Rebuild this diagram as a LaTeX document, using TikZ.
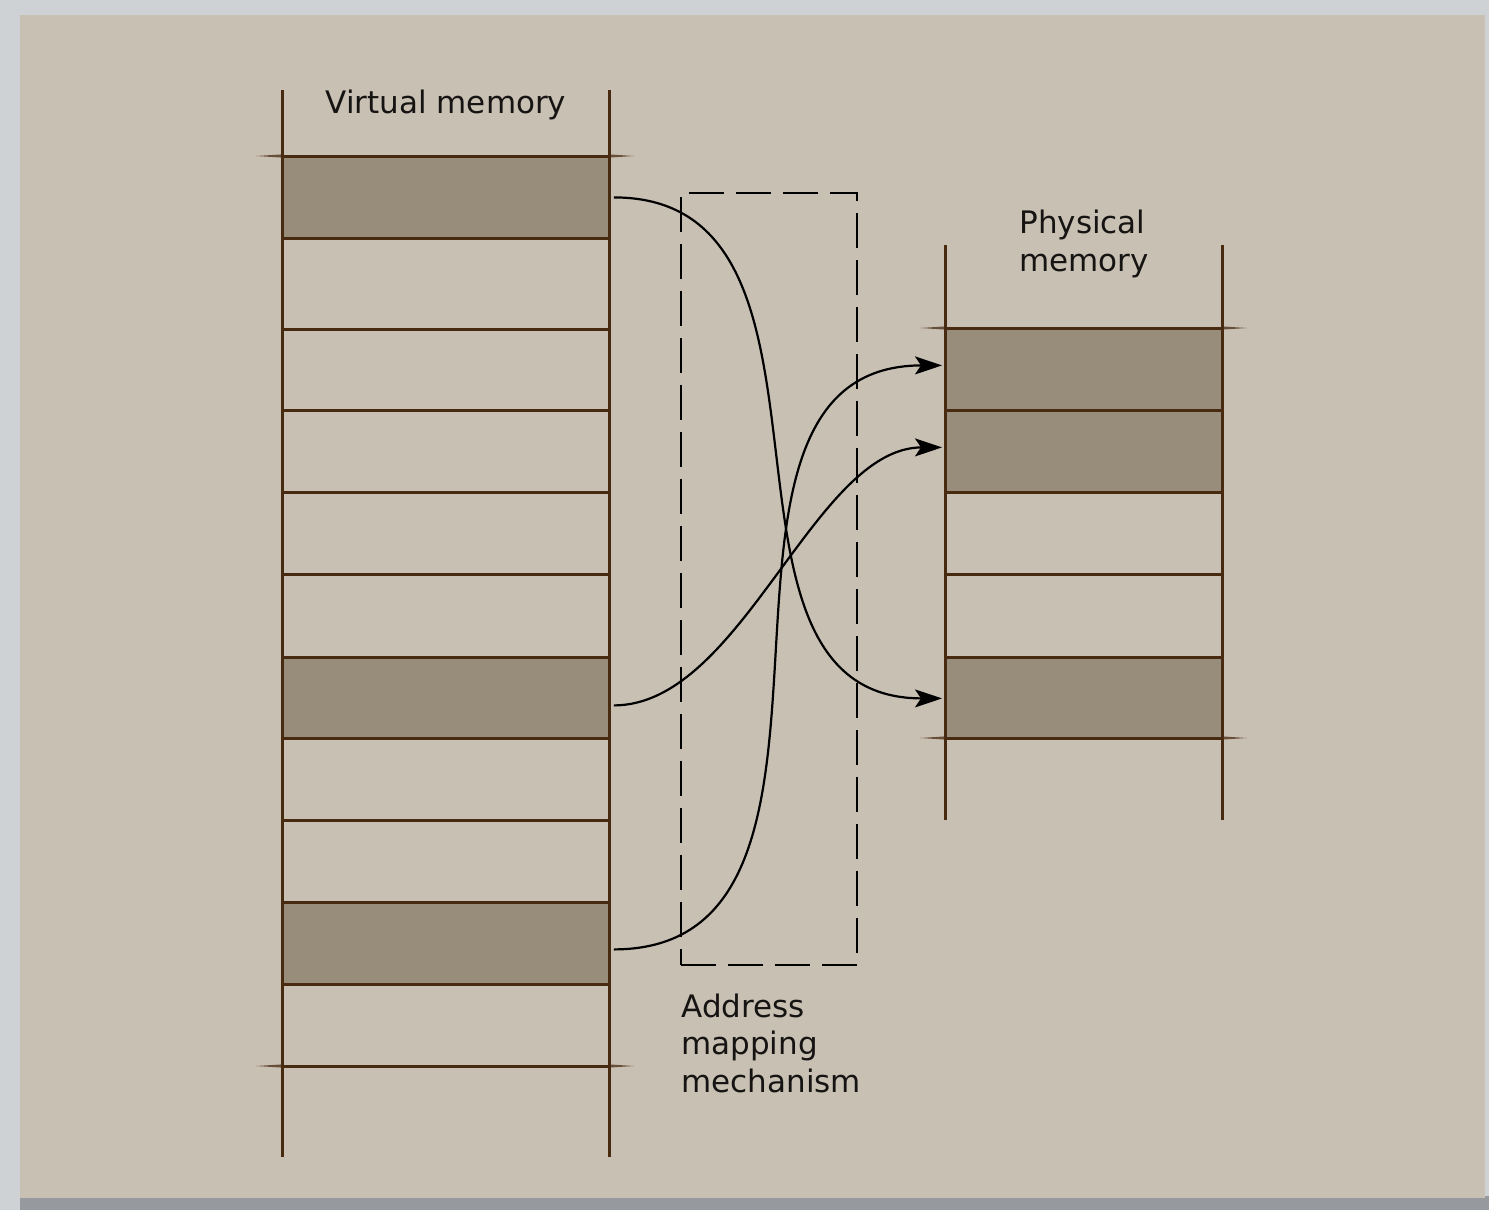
\documentclass[tikz,border=0pt]{standalone}
\usepackage{fontspec}
\setmainfont{DejaVu Sans}
\usetikzlibrary{arrows.meta}

\definecolor{frame}{RGB}{207,210,212}
\definecolor{shadow}{RGB}{150,153,157}
\definecolor{paper}{RGB}{201,192,180}
\definecolor{block}{RGB}{152,140,122}
\definecolor{ink}{RGB}{72,42,16}
\definecolor{textc}{RGB}{22,20,18}

\begin{document}
\begin{tikzpicture}[x=0.5pt,y=-0.5pt,
  rule/.style={draw=ink, line width=1.5pt},
  stub/.style={fill=ink, opacity=0.75},
  slot/.style={fill=block, draw=none, inner sep=0pt, anchor=north west,
               minimum height=41pt},
  vslot/.style={slot, minimum width=163.5pt},
  pslot/.style={slot, minimum width=138.5pt},
  label/.style={text=textc, font=\fontsize{15.5}{18.6}\selectfont, inner sep=0pt},
  mapbox/.style={draw=black, line width=1pt, dash pattern=on 17.5pt off 6pt,
                 inner sep=0pt, minimum width=88pt, minimum height=386pt, anchor=north west},
  link/.style={draw=black, line width=1.1pt, -{Stealth[length=13.5pt,width=9pt,inset=3pt]}}
]
% page and its frame
\fill[frame] (0,0) rectangle (1489,1210);
\fill[shadow] (20,1196) rectangle (1489,1210);
\fill[paper] (20,15) rectangle (1485,1198);
\useasboundingbox (0,0) rectangle (1489,1210);

% ---------- virtual memory ----------
\node[vslot] (v1)  at (282,156) {};
\node[vslot] (v7)  at (282,657) {};
\node[vslot] (v10) at (282,902) {};
\foreach \y in {156,238,329,410,492,574,657,738,820,902,984,1066}
  \draw[rule] (282,\y) -- (609,\y);
\foreach \y in {156,1066}{
  \fill[stub] (282,\y-1.6) -- (256,\y) -- (282,\y+1.6) -- cycle;
  \fill[stub] (609,\y-1.6) -- (634,\y) -- (609,\y+1.6) -- cycle;
}
\draw[rule] (282,90) -- (282,1157);
\draw[rule] (609,90) -- (609,1157);
\node[label, anchor=base] (vlabel) at (446,113) {Virtual memory};

% ---------- physical memory ----------
\node[pslot] (p1) at (945,328) {};
\node[pslot] (p2) at (945,410) {};
\node[pslot] (p5) at (945,657) {};
\foreach \y in {328,410,492,574,657,738}
  \draw[rule] (945,\y) -- (1222,\y);
\foreach \y in {328,738}{
  \fill[stub] (945,\y-1.6) -- (920,\y) -- (945,\y+1.6) -- cycle;
  \fill[stub] (1222,\y-1.6) -- (1247,\y) -- (1222,\y+1.6) -- cycle;
}
\draw[rule] (945,245) -- (945,820);
\draw[rule] (1222,245) -- (1222,820);
% multi-line nodes sit on the baseline of their last line
\node[label, anchor=base west, align=left] (plabel) at (1019,271) {Physical\\memory};

% ---------- address mapping mechanism ----------
\node[mapbox] (amm) at (680,192) {};
\node[label, anchor=base west, align=left] (alabel) at (681,1092) {Address\\mapping\\mechanism};

% ---------- page mappings ----------
\draw[link] ([xshift=2pt]v1.east) .. controls +(129pt,0) and +(-129pt,0) .. ([xshift=-1.5pt]p5.west);
\draw[link] ([xshift=2pt,yshift=-3.5pt]v7.east) .. controls +(64pt,0) and +(-64pt,0) .. ([xshift=-1.5pt,yshift=2pt]p2.west);
\draw[link] ([xshift=2pt,yshift=-3pt]v10.east) .. controls +(142pt,0) and +(-142pt,0) .. ([xshift=-1.5pt,yshift=2pt]p1.west);
\end{tikzpicture}
\end{document}
